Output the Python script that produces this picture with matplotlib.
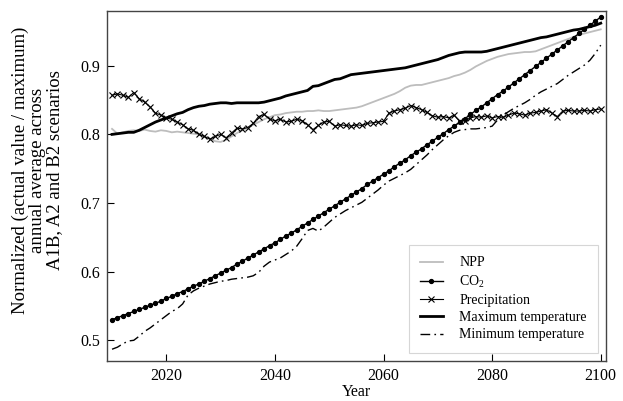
import matplotlib
matplotlib.use('Agg')
import matplotlib.pyplot as plt
import numpy as np

plt.rcParams['font.family'] = ['Liberation Serif', 'DejaVu Serif']
plt.rcParams['mathtext.fontset'] = 'custom'
plt.rcParams['mathtext.rm'] = 'Liberation Serif'

#%% Data, one value per year 2010-2100

Years = np.arange(2010, 2101)

NPP = [0.808, 0.801, 0.803, 0.805, 0.806, 0.805, 0.807, 0.805, 0.804, 0.806,
       0.805, 0.803, 0.804, 0.803, 0.802, 0.801, 0.800, 0.797, 0.794, 0.790,
       0.789, 0.792, 0.797, 0.802, 0.806, 0.810, 0.814, 0.818, 0.822, 0.825,
       0.828, 0.829, 0.831, 0.832, 0.833, 0.833, 0.834, 0.834, 0.835, 0.834,
       0.834, 0.835, 0.836, 0.837, 0.838, 0.839, 0.841, 0.844, 0.847, 0.850,
       0.853, 0.856, 0.859, 0.863, 0.868, 0.871, 0.872, 0.872, 0.874, 0.876,
       0.878, 0.880, 0.882, 0.885, 0.887, 0.890, 0.894, 0.899, 0.903, 0.907,
       0.910, 0.913, 0.915, 0.917, 0.918, 0.919, 0.920, 0.920, 0.921, 0.924,
       0.927, 0.930, 0.933, 0.936, 0.939, 0.942, 0.945, 0.947, 0.949, 0.951,
       0.953]

CO2 = [0.530, 0.533, 0.536, 0.539, 0.542, 0.545, 0.548, 0.551, 0.554, 0.557,
       0.561, 0.564, 0.568, 0.571, 0.575, 0.579, 0.582, 0.586, 0.590, 0.594,
       0.598, 0.602, 0.606, 0.611, 0.615, 0.620, 0.624, 0.629, 0.633, 0.638,
       0.642, 0.647, 0.652, 0.656, 0.661, 0.666, 0.671, 0.676, 0.681, 0.686,
       0.691, 0.696, 0.701, 0.706, 0.711, 0.716, 0.721, 0.727, 0.732, 0.737,
       0.742, 0.747, 0.753, 0.758, 0.763, 0.769, 0.774, 0.779, 0.785, 0.790,
       0.796, 0.801, 0.807, 0.812, 0.818, 0.823, 0.829, 0.835, 0.840, 0.846,
       0.852, 0.858, 0.863, 0.869, 0.875, 0.881, 0.887, 0.893, 0.899, 0.905,
       0.911, 0.917, 0.923, 0.929, 0.935, 0.941, 0.947, 0.953, 0.959, 0.965,
       0.971]

Precip = [0.857, 0.859, 0.857, 0.854, 0.861, 0.852, 0.847, 0.840, 0.831, 0.828,
          0.824, 0.822, 0.818, 0.814, 0.808, 0.806, 0.800, 0.797, 0.793, 0.797,
          0.800, 0.795, 0.802, 0.809, 0.808, 0.810, 0.816, 0.826, 0.829, 0.822,
          0.820, 0.822, 0.818, 0.819, 0.822, 0.820, 0.814, 0.807, 0.813, 0.818,
          0.819, 0.812, 0.814, 0.813, 0.812, 0.814, 0.813, 0.816, 0.817, 0.818,
          0.819, 0.831, 0.834, 0.836, 0.838, 0.842, 0.839, 0.836, 0.832, 0.827,
          0.825, 0.826, 0.824, 0.828, 0.819, 0.820, 0.824, 0.826, 0.825, 0.827,
          0.824, 0.826, 0.825, 0.828, 0.831, 0.830, 0.828, 0.831, 0.832, 0.834,
          0.836, 0.831, 0.826, 0.834, 0.835, 0.834, 0.834, 0.835, 0.834, 0.836,
          0.837]

TMax = [0.800, 0.801, 0.802, 0.803, 0.803, 0.806, 0.810, 0.814, 0.818, 0.821,
        0.824, 0.827, 0.830, 0.832, 0.836, 0.839, 0.841, 0.842, 0.844, 0.845,
        0.846, 0.846, 0.845, 0.846, 0.846, 0.846, 0.846, 0.846, 0.847, 0.849,
        0.851, 0.853, 0.856, 0.858, 0.860, 0.862, 0.864, 0.870, 0.871, 0.874,
        0.877, 0.880, 0.881, 0.884, 0.887, 0.888, 0.889, 0.890, 0.891, 0.892,
        0.893, 0.894, 0.895, 0.896, 0.897, 0.899, 0.901, 0.903, 0.905, 0.907,
        0.909, 0.912, 0.915, 0.917, 0.919, 0.920, 0.920, 0.920, 0.920, 0.921,
        0.923, 0.925, 0.927, 0.929, 0.931, 0.933, 0.935, 0.937, 0.939, 0.941,
        0.942, 0.944, 0.946, 0.948, 0.950, 0.952, 0.953, 0.955, 0.957, 0.959,
        0.962]

TMin = [0.487, 0.490, 0.495, 0.499, 0.500, 0.506, 0.513, 0.518, 0.524, 0.530,
        0.536, 0.542, 0.546, 0.553, 0.566, 0.572, 0.576, 0.579, 0.582, 0.584,
        0.586, 0.587, 0.589, 0.590, 0.591, 0.592, 0.594, 0.599, 0.608, 0.614,
        0.617, 0.620, 0.625, 0.630, 0.637, 0.648, 0.660, 0.663, 0.659, 0.665,
        0.672, 0.679, 0.684, 0.689, 0.693, 0.697, 0.701, 0.707, 0.713, 0.719,
        0.726, 0.732, 0.736, 0.740, 0.744, 0.749, 0.756, 0.763, 0.770, 0.778,
        0.785, 0.792, 0.798, 0.803, 0.806, 0.807, 0.808, 0.808, 0.809, 0.810,
        0.812, 0.821, 0.828, 0.833, 0.838, 0.842, 0.846, 0.851, 0.857, 0.862,
        0.866, 0.870, 0.874, 0.880, 0.886, 0.891, 0.896, 0.901, 0.908, 0.918,
        0.930]

#%% Plot

fig = plt.figure(figsize=(6.23, 4.01), dpi=100)
ax = fig.add_axes([0.172, 0.1, 0.801, 0.873])

ax.plot(Years, NPP, color='#bdbdbd', lw=1.3, label='NPP')
ax.plot(Years, CO2, color='black', lw=1.0, marker='o', ms=2.8,
        label=r'CO$_2$')
ax.plot(Years, Precip, color='black', lw=0.8, marker='x', ms=4, mew=0.8,
        label='Precipitation')
ax.plot(Years, TMax, color='black', lw=2.0, label='Maximum temperature')
ax.plot(Years, TMin, color='black', lw=1.0, dashes=(7, 3, 1.2, 3),
        label='Minimum temperature')

ax.set_xlim(2009.1, 2101)
ax.set_ylim(0.47, 0.98)
ax.set_xticks([2020, 2040, 2060, 2080, 2100])
ax.set_yticks([0.5, 0.6, 0.7, 0.8, 0.9])
ax.tick_params(direction='in', length=5, width=0.8, labelsize=11.5,
               top=False, right=False, pad=5)
for s in ax.spines.values():
    s.set_color('#444444')
    s.set_linewidth(1.0)

ax.set_xlabel('Year', fontsize=11.5, labelpad=0)
ax.set_ylabel('Normalized (actual value / maximum)\nannual average across\n'
              'A1B, A2 and B2 scenarios', fontsize=13.5, linespacing=1.0)
ax.yaxis.set_label_coords(-0.088, 0.545)

leg = ax.legend(loc='lower right', fontsize=10, handlelength=1.6,
                handletextpad=1.2, borderaxespad=0.6, fancybox=False,
                labelspacing=0.3, borderpad=0.8)
leg.get_frame().set_edgecolor('#cccccc')
leg.get_frame().set_linewidth(0.8)

fig.savefig('out.png', dpi=100)
